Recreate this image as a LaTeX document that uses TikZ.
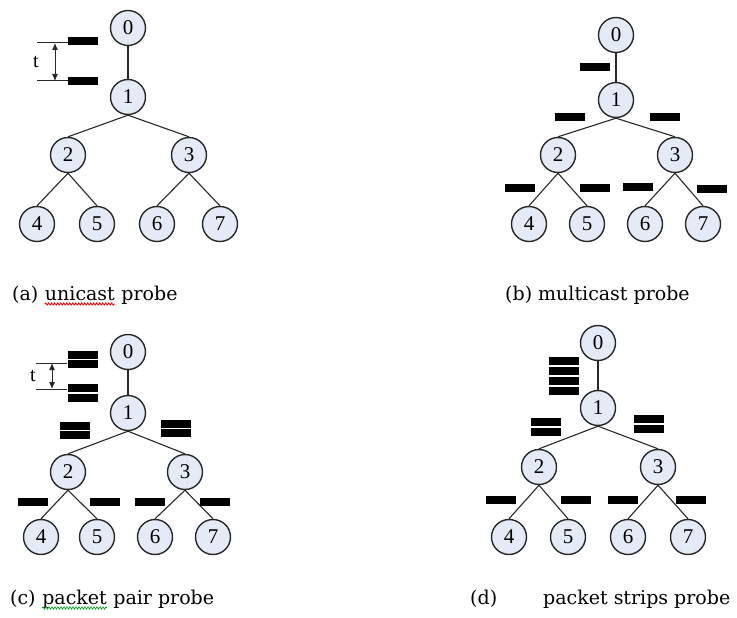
\documentclass[tikz,border=0pt]{standalone}
\usepackage{fontspec}
\setmainfont{Liberation Serif}
\newfontfamily\legendefont{DejaVu Serif}
\usetikzlibrary{decorations.pathmorphing,arrows.meta}
\definecolor{fondnoeud}{RGB}{228,234,246}
\definecolor{trait}{RGB}{40,40,40}
\definecolor{vertsouligne}{RGB}{20,160,40}

\begin{document}
\begin{tikzpicture}[x=1pt,y=-1pt]
  \tikzstyle{noeud}=[circle,draw=trait,line width=1.4pt,fill=fondnoeud,minimum size=35pt,inner sep=0pt,font=\fontsize{21}{21}\selectfont]
  \tikzstyle{arete}=[trait,line width=1.1pt]
  \tikzstyle{paquet}=[rectangle,fill=black,minimum width=30pt,minimum height=8pt,inner sep=0pt]
  \tikzstyle{repere}=[trait,line width=1pt]
  \tikzstyle{fleche}=[repere,{Latex[length=7pt,width=6pt]}-{Latex[length=7pt,width=6pt]}]
  \tikzstyle{legende}=[anchor=base west,inner sep=0pt,font=\legendefont\fontsize{19}{19}\selectfont]
  \tikzstyle{ondule}=[decorate,decoration={snake,amplitude=1.1pt,segment length=3pt},line width=0.8pt]
  \useasboundingbox (0,0) rectangle (737,618);

  % les quatre arbres
  \foreach \n/\x/\y in {0/128/28,1/128/97,2/68/155,3/189/155,4/37/224,5/97/224,6/157/224,7/220/224}
    \node[noeud] (a\n) at (\x,\y) {\n};
  \foreach \n/\x/\y in {0/616/35,1/616/100,2/558/155,3/675/155,4/529/224,5/587/224,6/645/224,7/703/224}
    \node[noeud] (b\n) at (\x,\y) {\n};
  \foreach \n/\x/\y in {0/128/352,1/128/413,2/68/472,3/185/472,4/41/537,5/97/537,6/155/537,7/213/537}
    \node[noeud] (c\n) at (\x,\y) {\n};
  \foreach \n/\x/\y in {0/598/343,1/598/408,2/539/467,3/658/467,4/509/537,5/568/537,6/628/537,7/688/537}
    \node[noeud] (d\n) at (\x,\y) {\n};
  \foreach \g in {a,b,c,d} {
    \draw[arete] (\g0) -- (\g1);
    \foreach \p/\f in {1/2,1/3,2/4,2/5,3/6,3/7}
      \draw[arete] (\g\p.south) -- (\g\f.north);
  }

  % (a) sonde unicast
  \node[paquet] (pa1) at (83,41) {};
  \node[paquet] (pa2) at (83,81.5) {};
  \coordinate (ta1) at (37,43);
  \coordinate (ta2) at (37,81);
  \draw[repere] (ta1) -- (ta1 -| pa1.west);
  \draw[repere] (ta2) -- (ta2 -| pa2.west);
  \coordinate (fa1) at (55,43);
  \coordinate (fa2) at (55,81);
  \draw[fleche] (fa1) -- (fa2);
  \node[font=\fontsize{20}{20}\selectfont] (ta) at (36,62) {t};

  % (b) sonde multicast
  \foreach \i/\x/\y in {1/595/67,2/570/117,3/665/117,4/520/188,5/595/188,6/638/187,7/712/189}
    \node[paquet] (pb\i) at (\x,\y) {};

  % (c) paires de paquets
  \foreach \i/\x/\y in {1/82.5/354.5,2/82.5/363.5,3/82.5/388,4/82.5/397.5,5/75/426,6/75/435,7/176/424,8/176/433,9/33/502,10/105/502,11/150/502,12/215/502}
    \node[paquet] (pc\i) at (\x,\y) {};
  \coordinate (tc1) at (36,363);
  \coordinate (tc2) at (36,389);
  \draw[repere] (tc1) -- (tc1 -| pc2.west);
  \draw[repere] (tc2) -- (tc2 -| pc3.west);
  \coordinate (fc1) at (52,363);
  \coordinate (fc2) at (52,389);
  \draw[fleche] (fc1) -- (fc2);
  \node[font=\fontsize{20}{20}\selectfont] (tc) at (33,376) {t};

  % (d) trains de paquets
  \foreach \i/\x/\y in {1/564/361,2/564/371,3/564/381,4/564/391,5/546/422,6/546/431.5,7/649/419,8/649/428.5,9/501/499.5,10/575.5/499.5,11/622.5/499.5,12/691/499.5}
    \node[paquet] (pd\i) at (\x,\y) {};

  % legendes
  \node[legende] (la) at (12,300) {(a)};
  \node[legende] (lau) at ([xshift=6.2pt]la.base east) {unicast};
  \node[legende] (lap) at ([xshift=6.2pt]lau.base east) {probe};
  \draw[ondule,red] ([yshift=-4pt]lau.base west) -- ([yshift=-4pt]lau.base east);
  \node[legende] (lb) at (505,300) {(b) multicast probe};
  \node[legende] (lc) at (10,604) {(c)};
  \node[legende] (lcp) at ([xshift=6.2pt]lc.base east) {packet};
  \node[legende] (lcr) at ([xshift=6.2pt]lcp.base east) {pair probe};
  \draw[ondule,vertsouligne] ([yshift=-4pt]lcp.base west) -- ([yshift=-4pt]lcp.base east);
  \node[legende] (ld) at (470,604) {(d)};
  \node[legende] (ldp) at (543,604) {packet strips probe};
\end{tikzpicture}
\end{document}
